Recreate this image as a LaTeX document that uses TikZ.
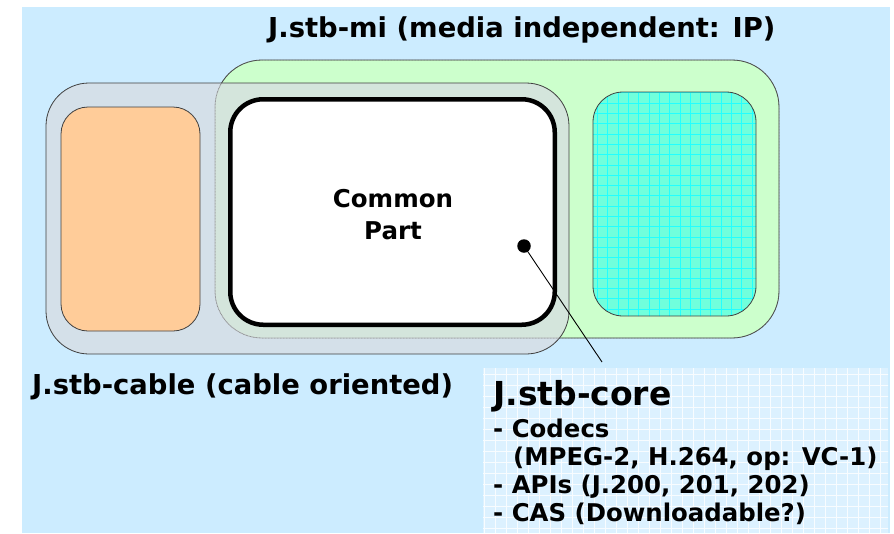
\documentclass[tikz,border=0pt]{standalone}
\usepackage{fontspec}
\setmainfont{DejaVu Sans}
\definecolor{bgblue}{HTML}{CCECFF}
\definecolor{mifill}{HTML}{CCFFCC}
\definecolor{cablefill}{HTML}{D8DDE2}
\definecolor{orangefill}{HTML}{FFCC99}
\definecolor{cyanfill}{HTML}{70FFDC}
\definecolor{cyangrid}{HTML}{22FFFF}
\definecolor{corefill}{HTML}{DCF1FF}
\tikzset{
  frame/.style={draw=black!75, line width=0.8pt},
  lbl/.style={inner sep=0pt, text=black, anchor=base west},
  big/.style={lbl, font=\bfseries\fontsize{27.4}{27.4}\selectfont},
  mid/.style={lbl, font=\bfseries\fontsize{24.4}{24.4}\selectfont},
  huge/.style={lbl, font=\bfseries\fontsize{33}{33}\selectfont},
}
\begin{document}
\begin{tikzpicture}[x=1pt,y=-1pt]
\useasboundingbox (0,0) rectangle (894,533);
% background panel
\fill[bgblue] (22,7) rectangle (890,533);

% media independent profile
\filldraw[fill=mifill, frame, rounded corners=47pt] (215,60) rectangle (779,338);
% cable profile, laid over it
\fill[cablefill, fill opacity=0.75, rounded corners=43pt] (46,83) rectangle (569,354);
\draw[frame, rounded corners=43pt] (46,83) rectangle (569,354);
\draw[black!55, line width=0.5pt, densely dotted, rounded corners=47pt] (215,60) rectangle (779,338);

% cable-specific part
\filldraw[fill=orangefill, frame, rounded corners=27pt] (61,107) rectangle (200,331);

% IP-specific part with grid texture
\begin{scope}
  \path[clip, rounded corners=30pt] (593,92) rectangle (756,316);
  \fill[cyanfill] (593,92) rectangle (756,316);
  \draw[cyangrid, line width=0.5pt, step=10.3pt] (590,90) grid (760,320);
\end{scope}
\draw[frame, rounded corners=30pt] (593,92) rectangle (756,316);

% common part
\filldraw[fill=white, draw=black, line width=4.5pt, rounded corners=33pt] (230.25,99.25) rectangle (554.75,324.75);
\node[mid, font=\bfseries\fontsize{24.5}{24.5}\selectfont, anchor=base] (common) at (393,207) {Common};
\node[mid, font=\bfseries\fontsize{24.5}{24.5}\selectfont, anchor=base] (part) at (393,239) {Part};

% core description panel with grid texture
\begin{scope}
  \clip (483,368) rectangle (888,533);
  \fill[corefill] (483,368) rectangle (888,533);
  \draw[white, line width=0.7pt, opacity=0.8, step=11pt] (480,366) grid (890,535);
\end{scope}

% titles
\node[big] (mititle) at (268,37) {J.stb-mi (media independent: IP)};
\node[big] (cabletitle) at (32,394) {J.stb-cable (cable oriented)};
\node[huge] (coretitle) at (493,405) {J.stb-core};
\node[mid] (codecs) at (493,437) {- Codecs};
\node[mid] (codecslist) at (513,465) {(MPEG-2, H.264, op: VC-1)};
\node[mid] (apis) at (493,493) {- APIs (J.200, 201, 202)};
\node[mid] (cas) at (493,521) {- CAS (Downloadable?)};

% pointer from the common part to the core panel
\node[circle, fill=black, inner sep=0pt, minimum size=13.5pt] (dot) at (524,246) {};
\coordinate (tip) at (602,362);
\draw[black, line width=0.9pt] (dot.center) -- (tip);
\end{tikzpicture}
\end{document}
